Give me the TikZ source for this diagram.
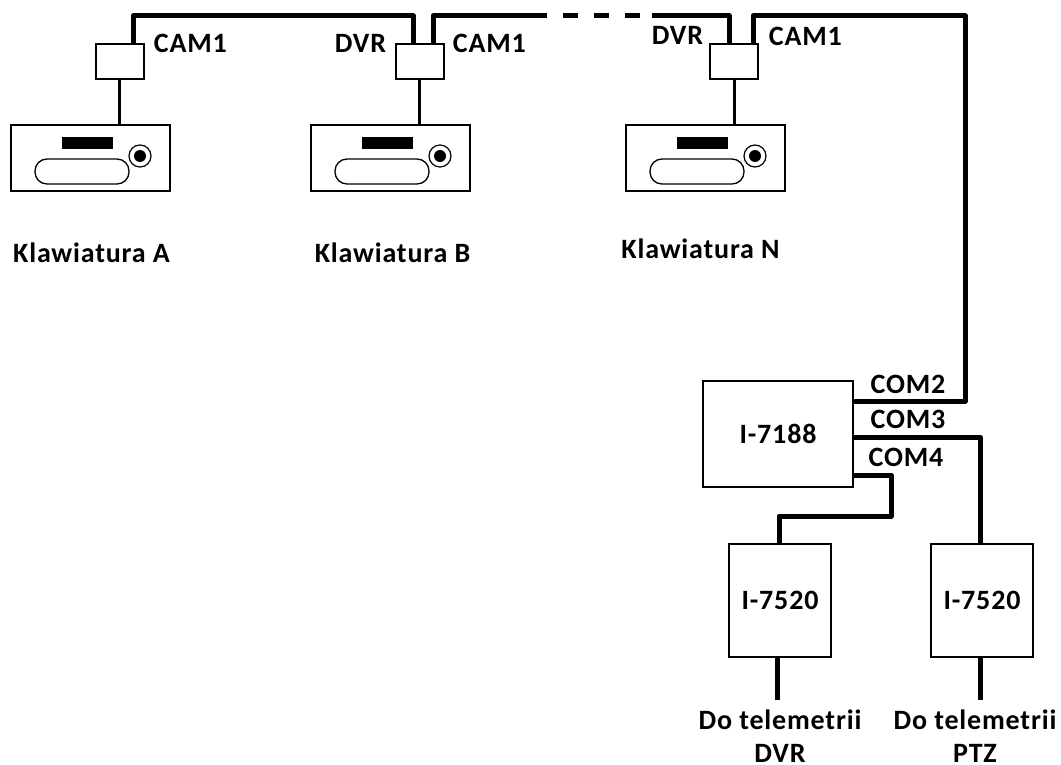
\documentclass[tikz,border=0pt]{standalone}
\usepackage{fontspec}
\setmainfont[LetterSpace=3]{Carlito}
\usetikzlibrary{positioning}

\begin{document}
\begin{tikzpicture}[
  x=1pt, y=-1pt,
  box_/.style={rectangle, draw=black, line width=1.5pt, fill=white, inner sep=0pt},
  cam_/.style={box_, minimum width=48pt, minimum height=35pt},
  kbd_/.style={box_, minimum width=159pt, minimum height=66pt},
  ctrl_/.style={box_, minimum width=150pt, minimum height=106pt, font=\fontsize{28}{33}\selectfont\bfseries},
  tele_/.style={box_, minimum width=102pt, minimum height=113pt, font=\fontsize{28}{33}\selectfont\bfseries},
  slot_/.style={rectangle, fill=black, inner sep=0pt, minimum width=51pt, minimum height=12pt},
  pill_/.style={rectangle, rounded corners=12pt, draw=black, line width=1.3pt, inner sep=0pt, minimum width=94pt, minimum height=25pt},
  jack_/.style={circle, draw=black, line width=1.2pt, inner sep=0pt, minimum size=22pt},
  core_/.style={circle, fill=black, inner sep=0pt, minimum size=12pt},
  lab_/.style={inner sep=0pt, font=\fontsize{28}{33}\selectfont\bfseries, align=center},
  wire/.style={line width=5pt, color=black, line join=round},
  link/.style={line width=3pt, color=black}
]
\useasboundingbox (0,0) rectangle (1061,765);

% keyboards
\node[kbd_] (kbdA) at (90.5,158) {};
\node[kbd_] (kbdB) at (390.5,158) {};
\node[kbd_] (kbdN) at (705.5,158) {};
\node[slot_, xshift=-3pt, yshift=15pt] (slotA) at (kbdA) {};
\node[slot_, xshift=-3pt, yshift=15pt] (slotB) at (kbdB) {};
\node[slot_, xshift=-3pt, yshift=15pt] (slotN) at (kbdN) {};
\node[pill_, xshift=-8.5pt, yshift=-13.5pt] (pillA) at (kbdA) {};
\node[pill_, xshift=-8.5pt, yshift=-13.5pt] (pillB) at (kbdB) {};
\node[pill_, xshift=-8.5pt, yshift=-13.5pt] (pillN) at (kbdN) {};
\node[jack_, xshift=49.5pt, yshift=2pt] (jackA) at (kbdA) {};
\node[jack_, xshift=49.5pt, yshift=2pt] (jackB) at (kbdB) {};
\node[jack_, xshift=49.5pt, yshift=2pt] (jackN) at (kbdN) {};
\node[core_] (coreA) at (jackA) {};
\node[core_] (coreB) at (jackB) {};
\node[core_] (coreN) at (jackN) {};

\node[cam_] (camA) at (120,61.5) {};
\node[cam_] (camB) at (420,61.5) {};
\node[cam_] (camN) at (734,61.5) {};

\node[ctrl_] (ctrl) at (778,434) {I-7188};
\node[tele_] (teleA) at (780,600.5) {I-7520};
\node[tele_] (teleB) at (982,600.5) {I-7520};

\coordinate (busTop) at (273,16);
\coordinate (gapL) at (547,16);
\coordinate (gapR) at (652,16);
\coordinate (cornerTR) at (965,16);
\coordinate (bendD) at (891,516);
\coordinate (endA) at (777,700);
\coordinate (endB) at (980,700);

\draw[link] ([xshift=-1pt]camA.south) -- ([xshift=-1pt]camA.south |- kbdA.north);
\draw[link] ([xshift=-1pt]camB.south) -- ([xshift=-1pt]camB.south |- kbdB.north);
\draw[link] (camN.south) -- (camN.south |- kbdN.north);

\draw[wire] ([xshift=13pt]camA.north) |- (busTop) -| ([xshift=-7pt]camB.north);
\draw[wire] ([xshift=13pt]camB.north) |- (gapL);
\draw[wire, dash pattern=on 15pt off 16pt, dash phase=15pt] (gapL) -- (gapR);
\draw[wire] (gapR) -| ([xshift=-5pt]camN.north);
\draw[wire] ([xshift=19pt]camN.north) |- (cornerTR) |- ([yshift=33pt]ctrl.east);
\draw[wire] ([yshift=-3pt]ctrl.east) -| ([xshift=-2pt]teleB.north);
\draw[wire] ([yshift=-41pt]ctrl.east) -| (bendD) -| ([xshift=-1pt]teleA.north);
\draw[wire] ([xshift=-3pt]teleA.south) -- (endA);
\draw[wire] ([xshift=-2pt]teleB.south) -- (endB);

\node[lab_, right=9pt of camA.north east] (lcamA) {CAM1};
\node[lab_, left=9pt of camB.north west] (ldvrB) {DVR};
\node[lab_, right=8pt of camB.north east] (lcamB) {CAM1};
\node[lab_, left=6pt of camN.north west, yshift=8pt] (ldvrN) {DVR};
\node[lab_, right=10pt of camN.north east, yshift=7pt] (lcamN) {CAM1};
\node[lab_, below=61pt of kbdA.south, anchor=center, xshift=1pt] (nameA) {Klawiatura A};
\node[lab_, below=61pt of kbdB.south, anchor=center, xshift=2pt] (nameB) {Klawiatura B};
\node[lab_, below=57pt of kbdN.south, anchor=center, xshift=-5pt] (nameN) {Klawiatura N};
\node[lab_] (com2) at (908,384) {COM2};
\node[lab_] (com3) at (908,419) {COM3};
\node[lab_] (com4) at (906,457) {COM4};
\node[lab_] (outA) at (780,736) {Do telemetrii\\DVR};
\node[lab_] (outB) at (975,736) {Do telemetrii\\PTZ};
\end{tikzpicture}
\end{document}
